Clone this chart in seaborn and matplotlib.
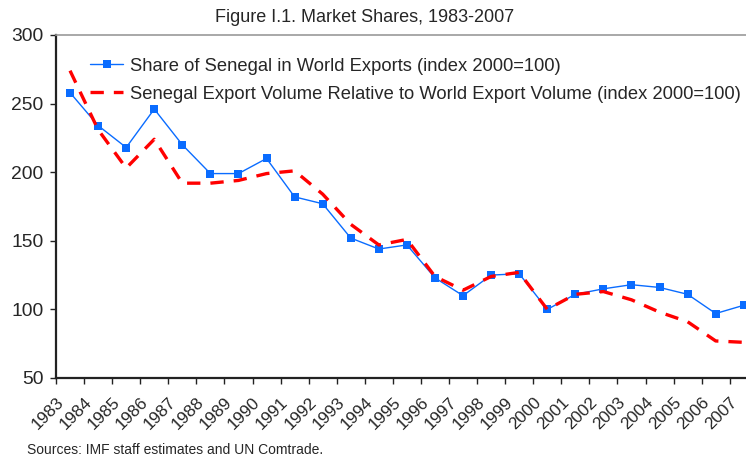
import pandas as pd
import seaborn as sns
import matplotlib.pyplot as plt

years = [str(y) for y in range(1983, 2008)]

share_world_exports = [258, 234, 218, 246, 220, 199, 199, 210, 182, 177,
                       152, 144, 147, 123, 110, 125, 126, 100, 111, 115,
                       118, 116, 111, 97, 103]

volume_relative = [274, 231, 203, 224, 192, 192, 194, 199, 201, 184,
                   162, 147, 151, 124, 114, 124, 127, 100, 111, 113,
                   107, 98, 91, 77, 76]

label_share = "Share of Senegal in World Exports (index 2000=100)"
label_volume = "Senegal Export Volume Relative to World Export Volume (index 2000=100)"

df = pd.DataFrame({"year": years,
                   "share": share_world_exports,
                   "volume": volume_relative})

sns.set_style("white")
plt.rcParams["font.family"] = ["Liberation Sans", "DejaVu Sans"]

fig = plt.figure(figsize=(7.46, 4.57), dpi=100)
ax = fig.add_axes([56 / 746, 1 - 378 / 457, 1 - 56 / 746, (378 - 35) / 457])

sns.lineplot(data=df, x="year", y="share", ax=ax, color="#0a6cff",
             linewidth=1.0, marker="s", markersize=5.5, markeredgewidth=0,
             label=label_share, sort=False)
sns.lineplot(data=df, x="year", y="volume", ax=ax, color="#ff0000",
             linewidth=2.4, dashes=(4, 3), label=label_volume, sort=False)

ax.set_ylim(50, 300)
ax.set_yticks(range(50, 301, 50))

# tick marks sit between categories; rotated labels hang from each mark
ax.set_xticks([], [])
ax.set_xticks([i - 0.5 for i in range(len(years))], years, minor=True,
              rotation=45, ha="right", rotation_mode="anchor", fontsize=12.3)
ax.set_xlim(-0.5, 24.08)
ax.tick_params(axis="x", which="minor", length=4, width=1, color="#222222",
               direction="out", bottom=True, pad=8)
ax.tick_params(axis="y", length=4, width=1, color="#222222", direction="out",
               left=True, labelsize=13.9, pad=5)

ax.set_xlabel("")
ax.set_ylabel("")

for side in ["left", "bottom"]:
    ax.spines[side].set_color("#222222")
    ax.spines[side].set_linewidth(1.6)
ax.spines["top"].set_color("#999999")
ax.spines["top"].set_linewidth(1.2)
ax.spines["right"].set_visible(False)

leg = ax.legend(loc="upper left", bbox_to_anchor=(0.038, 0.955), frameon=False,
                fontsize=13.2, handlelength=1.85, handletextpad=0.35,
                labelspacing=0.6, borderaxespad=0)

fig.text(365 / 746, 1 - 17 / 457, "Figure I.1. Market Shares, 1983-2007",
         ha="center", va="center", fontsize=13)
fig.text(27 / 746, 1 - 450 / 457, "Sources: IMF staff estimates and UN Comtrade.",
         ha="left", va="center", fontsize=10)

fig.savefig("out.png", dpi=100)
